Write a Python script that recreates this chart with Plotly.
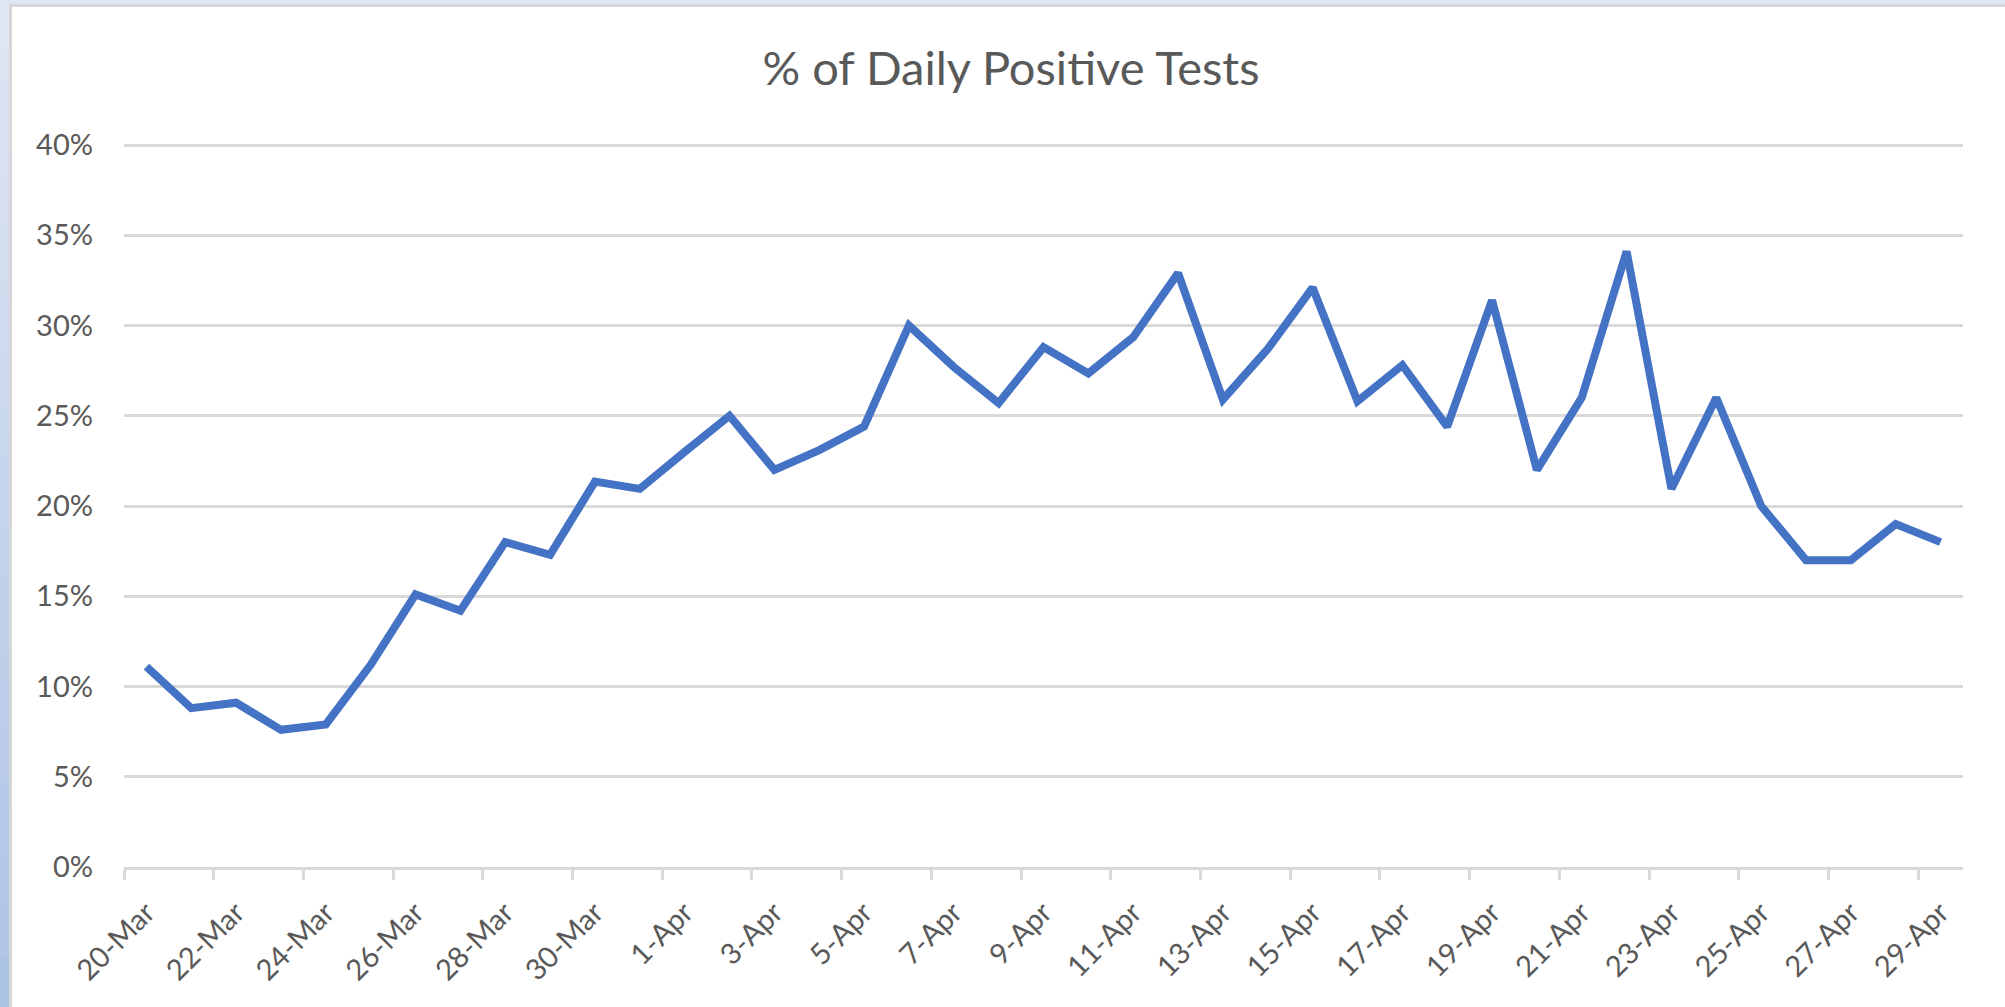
import plotly.graph_objects as go

dates = ["20-Mar", "21-Mar", "22-Mar", "23-Mar", "24-Mar", "25-Mar", "26-Mar", "27-Mar",
         "28-Mar", "29-Mar", "30-Mar", "31-Mar", "1-Apr", "2-Apr", "3-Apr", "4-Apr",
         "5-Apr", "6-Apr", "7-Apr", "8-Apr", "9-Apr", "10-Apr", "11-Apr", "12-Apr",
         "13-Apr", "14-Apr", "15-Apr", "16-Apr", "17-Apr", "18-Apr", "19-Apr", "20-Apr",
         "21-Apr", "22-Apr", "23-Apr", "24-Apr", "25-Apr", "26-Apr", "27-Apr", "28-Apr",
         "29-Apr"]

pct_positive = [11.1, 8.8, 9.1, 7.6, 7.9, 11.2, 15.1, 14.2, 18.0, 17.3, 21.35, 20.95,
                23.0, 25.0, 22.0, 23.1, 24.4, 30.0, 27.7, 25.7, 28.8, 27.35, 29.35, 32.9,
                25.9, 28.7, 32.1, 25.8, 27.8, 24.4, 31.4, 22.0, 26.0, 34.1, 20.95, 26.0,
                20.0, 17.0, 17.0, 19.0, 18.0]

y_tick_vals = [0, 0.05, 0.10, 0.15, 0.20, 0.25, 0.30, 0.35, 0.40]

TITLE = "% of Daily Positive Tests"

W, H = 2005, 1007
ML, MR, MT, MB = 124, 42, 141, 140
PW, PH = W - ML - MR, H - MT - MB
TOP_GRID_PX = 145  # pixel row of the 40% gridline
Y_TOP = 0.40 * (H - MB - MT) / (H - MB - TOP_GRID_PX)

TEXT = "#595959"
GRID = "#d9d9d9"
LINE = "#4472c4"
FONT = "Lato, 'Open Sans', sans-serif"


def px_x(px):
    return (px - ML) / PW


def px_y(py):
    return (H - MB - py) / PH


fig = go.Figure()
fig.add_trace(go.Scatter(
    x=dates,
    y=[v / 100 for v in pct_positive],
    mode="lines",
    line=dict(color=LINE, width=8),
    hoverinfo="x+y",
    showlegend=False,
))

shapes = []
# left blue gradient strip
n = 40
c0 = (0xdf, 0xe6, 0xf3)
c1 = (0xad, 0xc3, 0xe6)
for i in range(n):
    t = i / (n - 1)
    col = "rgb(%d,%d,%d)" % tuple(round(a + (b - a) * t) for a, b in zip(c0, c1))
    y0 = H * i / n
    y1 = H * (i + 1) / n + 1
    shapes.append(dict(type="rect", xref="paper", yref="paper", layer="below",
                       x0=px_x(0), x1=px_x(9), y0=px_y(y1), y1=px_y(y0),
                       fillcolor=col, line=dict(width=0)))
# top strip
shapes.append(dict(type="rect", xref="paper", yref="paper", layer="below",
                   x0=px_x(0), x1=px_x(W), y0=px_y(4), y1=px_y(0),
                   fillcolor="#dfe6f3", line=dict(width=0)))
# gray frame lines
shapes.append(dict(type="rect", xref="paper", yref="paper", layer="below",
                   x0=px_x(9), x1=px_x(W), y0=px_y(7), y1=px_y(4),
                   fillcolor="#d6d6d6", line=dict(width=0)))
shapes.append(dict(type="rect", xref="paper", yref="paper", layer="below",
                   x0=px_x(9), x1=px_x(12), y0=px_y(H), y1=px_y(4),
                   fillcolor="#d6d6d6", line=dict(width=0)))

fig.update_layout(
    width=W, height=H,
    margin=dict(l=ML, r=MR, t=MT, b=MB, pad=0),
    paper_bgcolor="white",
    plot_bgcolor="white",
    shapes=shapes,
    title=dict(text=TITLE, x=1011 / W, xref="container", xanchor="center",
               y=1 - 69 / H, yref="container", yanchor="middle",
               font=dict(family=FONT, size=47, color=TEXT)),
    xaxis=dict(
        type="category",
        categoryorder="array", categoryarray=dates,
        tickmode="linear", tick0=0, dtick=2,
        tickson="boundaries",
        ticks="outside", ticklen=10, tickwidth=3, tickcolor=GRID,
        showgrid=False, zeroline=False,
        showline=True, linecolor=GRID, linewidth=3,
        tickangle=-45,
        ticklabelstandoff=14,
        tickfont=dict(family=FONT, size=29, color=TEXT),
        range=[-0.5, len(dates) - 0.5],
        fixedrange=True,
    ),
    yaxis=dict(
        range=[0, Y_TOP],
        tickmode="array", tickvals=y_tick_vals, tickformat=".0%",
        showgrid=True, gridcolor=GRID, gridwidth=3,
        zeroline=False, showline=False, ticks="",
        ticklabelstandoff=30,
        tickfont=dict(family=FONT, size=29, color=TEXT),
        fixedrange=True,
    ),
)

fig.write_html(
    "out.html",
    config={"displayModeBar": False},
    post_script="document.body.style.margin='0';document.body.style.overflow='hidden';",
)
